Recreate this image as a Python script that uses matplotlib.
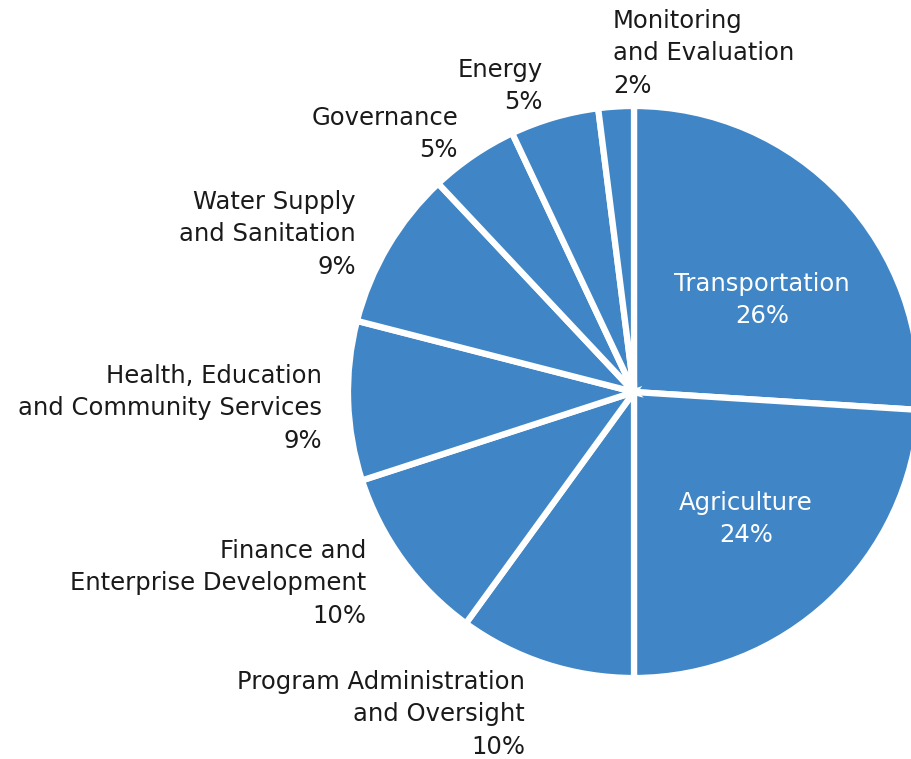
import matplotlib
matplotlib.use("Agg")
import matplotlib.pyplot as plt

# ---- data ----
categories = ["Transportation", "Agriculture", "Program Administration\nand Oversight",
              "Finance and\nEnterprise Development", "Health, Education\nand Community Services",
              "Water Supply\nand Sanitation", "Governance", "Energy", "Monitoring\nand Evaluation"]
shares = [26, 24, 10, 10, 9, 9, 5, 5, 2]

# ---- layout (pixel anchor: x, first-line baseline y, alignment) ----
W, H = 911, 759
label_pos = [(762, 291, "center"), (746, 510, "center"), (525, 689, "right"),
             (366, 558, "right"), (322, 383, "right"), (356, 209, "right"),
             (458, 125, "right"), (543, 77, "right"), (613, 28, "left")]
inside = [True, True, False, False, False, False, False, False, False]
LINE = 32.3

BLUE = "#4086C6"
plt.rcParams["font.family"] = ["DejaVu Sans"]

fig = plt.figure(figsize=(W / 100, H / 100), dpi=100)
ax = fig.add_axes([0, 0, 1, 1])

ax.pie(shares, center=(634, H - 392), radius=286, startangle=90, counterclock=False,
       colors=[BLUE] * len(shares),
       wedgeprops=dict(edgecolor="white", linewidth=4.5), frame=True)
ax.set_xlim(0, W)
ax.set_ylim(0, H)
ax.set_aspect("equal")
ax.axis("off")

fs = 17.5
for cat, val, (x, y, ha), ins in zip(categories, shares, label_pos, inside):
    lines = cat.split("\n") + [f"{val}%"]
    for i, ln in enumerate(lines):
        ax.text(x, H - (y + i * LINE), ln, ha=ha, va="baseline",
                fontsize=fs, color="white" if ins else "#1a1a1a")

fig.savefig("out.png", dpi=100)
